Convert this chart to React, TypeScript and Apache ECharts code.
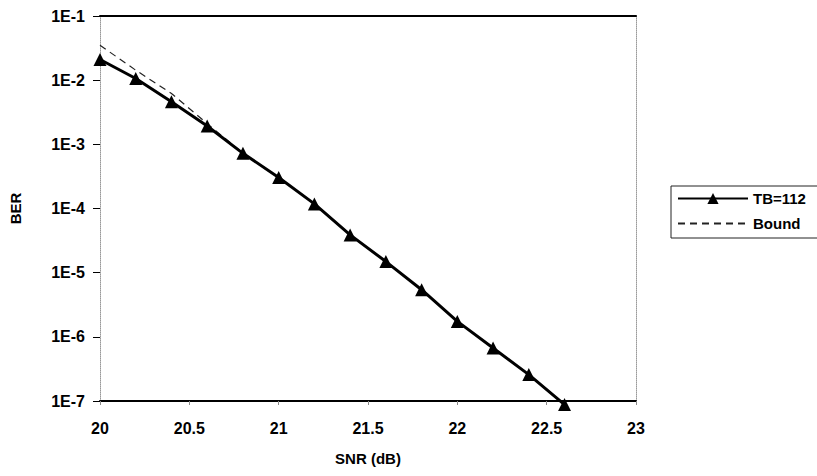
import React, { useEffect, useRef } from "react";
import * as echarts from "echarts";

const snr = [20, 20.2, 20.4, 20.6, 20.8, 21.0, 21.2, 21.4, 21.6, 21.8, 22.0, 22.2, 22.4, 22.6];
const berTB112 = [0.021, 0.0106, 0.0046, 0.00193, 7.24e-4, 3.05e-4, 1.18e-4, 3.88e-5, 1.49e-5, 5.42e-6, 1.74e-6, 6.71e-7, 2.58e-7, 8.8e-8];
const berBound = [0.035, 0.0143, 0.0062, 0.0021, 7.3e-4, 3.05e-4, 1.18e-4, 3.88e-5, 1.49e-5, 5.42e-6, 1.74e-6, 6.71e-7, 2.58e-7, 8.8e-8];
const xTicks = { min: 20, max: 23, interval: 0.5 };
const yTicks = { min: 1e-7, max: 1e-1 };
const seriesNames = ["TB=112", "Bound"];

const FONT = "'Liberation Sans', Arial, sans-serif";

export default function App() {
  const ref = useRef<HTMLDivElement>(null);
  useEffect(() => {
    if (!ref.current) return;
    const chart = echarts.init(ref.current, null, { renderer: "svg" });
    const bold = { fontFamily: FONT, fontWeight: "bold" as const, color: "#000" };
    chart.setOption({
      animation: false,
      backgroundColor: "#fff",
      grid: { left: 96, right: 181, top: 16, bottom: 75 },
      legend: {
        orient: "vertical",
        left: 671,
        top: 186,
        padding: [5, 5, 5, 6],
        itemWidth: 70,
        itemHeight: 14,
        itemGap: 10,
        data: [
          { name: seriesNames[0] },
          {
            name: seriesNames[1],
            itemStyle: { color: "rgba(0,0,0,0)", borderColor: "rgba(0,0,0,0)", borderWidth: 0 },
          },
        ],
        textStyle: { ...bold, fontSize: 15 },
      },
      graphic: [
        {
          type: "rect",
          shape: { x: 671, y: 186, width: 200, height: 52 },
          style: { fill: "none", stroke: "#222", lineWidth: 1 },
          silent: true,
        },
      ],
      xAxis: [
        {
          type: "value",
          min: xTicks.min,
          max: xTicks.max,
          interval: xTicks.interval,
          name: "SNR (dB)",
          nameLocation: "middle",
          nameGap: 50,
          nameTextStyle: { ...bold, fontSize: 15 },
          axisLine: { lineStyle: { color: "#000", width: 2 } },
          axisTick: { length: 4, lineStyle: { color: "#888" } },
          axisLabel: { ...bold, fontSize: 16, margin: 19 },
          splitLine: { show: false },
        },
        {
          type: "value",
          position: "top",
          min: xTicks.min,
          max: xTicks.max,
          axisLine: { lineStyle: { color: "#000", width: 2 } },
          axisTick: { show: false },
          axisLabel: { show: false },
          splitLine: { show: false },
        },
      ],
      yAxis: [
        {
          type: "log",
          logBase: 10,
          min: yTicks.min,
          max: yTicks.max,
          name: "BER",
          nameLocation: "middle",
          nameGap: 77,
          nameRotate: 90,
          nameTextStyle: { ...bold, fontSize: 15 },
          axisLine: { show: true, lineStyle: { color: "#999", type: "dotted", width: 1 } },
          axisTick: { show: true, length: 7, lineStyle: { color: "#000" } },
          axisLabel: {
            ...bold,
            fontSize: 16,
            margin: 15,
            formatter: (v: number) => "1E" + Math.round(Math.log10(v)),
          },
          splitLine: { show: false },
        },
        {
          type: "log",
          logBase: 10,
          position: "right",
          min: yTicks.min,
          max: yTicks.max,
          axisLine: { show: true, lineStyle: { color: "#999", type: "dotted", width: 1 } },
          axisTick: { show: false },
          axisLabel: { show: false },
          splitLine: { show: false },
        },
      ],
      series: [
        {
          name: seriesNames[1],
          type: "line",
          data: snr.map((x, i) => [x, berBound[i]]),
          symbol: "none",
          clip: false,
          lineStyle: { color: "#222", width: 1.2, type: [7, 5] },
          itemStyle: { color: "#222" },
          z: 2,
        },
        {
          name: seriesNames[0],
          type: "line",
          data: snr.map((x, i) => [x, berTB112[i]]),
          symbol: "triangle",
          symbolSize: 13,
          clip: false,
          lineStyle: { color: "#000", width: 3 },
          itemStyle: { color: "#000" },
          z: 3,
        },
      ],
    });
    return () => chart.dispose();
  }, []);
  return (
    <div
      ref={ref}
      style={{ position: "fixed", left: 0, top: 0, width: 817, height: 476 }}
    />
  );
}
